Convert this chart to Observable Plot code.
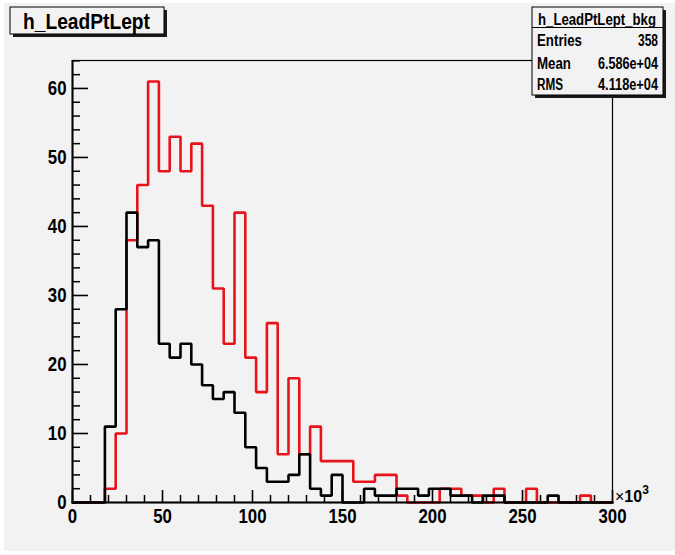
<!DOCTYPE html>
<html>
<head>
<meta charset="utf-8">
<script src="https://cdn.jsdelivr.net/npm/d3@7"></script>
<script src="https://cdn.jsdelivr.net/npm/@observablehq/plot@0.6"></script>
<style>
html, body { margin: 0; padding: 0; background: #ffffff; }
#chart { position: relative; width: 675px; height: 555px; }
</style>
</head>
<body>
<div id="chart"></div>
<script>
// ---- data ----
const binWidth = 6;          // in units of 10^3
const xMin = 0, xMax = 300;
const yMax = 64.05;
const redCounts = [0,0,0,2,10,38,46,61,48,53,48,52,43,31,23,42,21,16,26,7,18,7,11,6,6,6,3,3,4,4,1,0,0,0,2,2,1,1,0,2,0,0,2,0,0,0,0,1,0,0];
const blackCounts = [0,0,0,11,28,42,37,38,23,21,23,20,17,15,16,13,8,5,3,3,4,7,2,1,4,0,0,2,1,1,2,2,1,2,2,1,1,0,1,1,0,0,0,0,1,0,0,0,0,0];
const xMajorTicks = [0,50,100,150,200,250,300];
const xMinorTicks = [10,20,30,40,60,70,80,90,110,120,130,140,160,170,180,190,210,220,230,240,260,270,280,290];
const yMajorTicks = [0,10,20,30,40,50,60];
const yMinorTicks = [2,4,6,8,12,14,16,18,22,24,26,28,32,34,36,38,42,44,46,48,52,54,56,58,62,64];
const titleText = "h_LeadPtLept";
const statsTitle = "h_LeadPtLept_bkg";
const statsLabels = ["Entries", "Mean", "RMS"];
const statsValues = ["358", "6.586e+04", "4.118e+04"];
const axisMultiplier = "10";
const axisExponent = "3";

function stepPoints(counts) {
  const pts = counts.map((c, i) => ({x: xMin + i * binWidth, y: c}));
  pts.push({x: xMin + counts.length * binWidth, y: counts[counts.length - 1]});
  return pts;
}
const redPts = stepPoints(redCounts);
const blackPts = stepPoints(blackCounts);

const FONT = "'Liberation Sans', Arial, Helvetica, sans-serif";
const W = 675, H = 555, mL = 72, mR = 63, mT = 60, mB = 53;
const xPerPx = (xMax - xMin) / (W - mL - mR);
const yPerPx = yMax / (H - mT - mB);
const TICK = "#000";

const plot = Plot.plot({
  width: W,
  height: H,
  marginLeft: mL,
  marginRight: mR,
  marginTop: mT,
  marginBottom: mB,
  style: {background: "transparent", fontFamily: FONT, color: "#000"},
  x: {domain: [xMin, xMax]},
  y: {domain: [0, yMax]},
  marks: [
    Plot.frame({stroke: "#000", strokeWidth: 1.2}),
    Plot.line(redPts, {x: "x", y: "y", curve: "step-after", stroke: "#e8141c", strokeWidth: 2.6, strokeLinejoin: "miter"}),
    Plot.line(blackPts, {x: "x", y: "y", curve: "step-after", stroke: "#000", strokeWidth: 2.6, strokeLinejoin: "miter"}),
    Plot.ruleY(yMajorTicks, {y: d => d, x1: xMin, x2: xMin + 16 * xPerPx, stroke: TICK, strokeWidth: 1.6}),
    Plot.ruleY(yMinorTicks, {y: d => d, x1: xMin, x2: xMin + 8 * xPerPx, stroke: TICK, strokeWidth: 1.5}),
    Plot.ruleX(xMajorTicks, {x: d => d, y1: 0, y2: 12 * yPerPx, stroke: TICK, strokeWidth: 1.6}),
    Plot.ruleX(xMinorTicks, {x: d => d, y1: 0, y2: 7 * yPerPx, stroke: TICK, strokeWidth: 1.5}),
    Plot.ruleX([xMin], {stroke: "#000", strokeWidth: 2}),
    Plot.ruleY([0], {stroke: "#000", strokeWidth: 2}),
    Plot.axisY({ticks: yMajorTicks, tickSize: 0, tickPadding: 6, fontSize: 21, fontWeight: "bold", label: null}),
    Plot.axisX({ticks: xMajorTicks, tickSize: 0, tickPadding: 6, fontSize: 21, fontWeight: "bold", label: null})
  ]
});

document.getElementById("chart").appendChild(plot);

const svg = d3.select(plot);
svg.insert("rect", ":first-child")
  .attr("x", 4).attr("y", 3).attr("width", 671).attr("height", 548)
  .attr("fill", "#f2f2f2");

function squeeze(node, length) {
  node.setAttribute("textLength", length);
  node.setAttribute("lengthAdjust", "spacingAndGlyphs");
}

plot.querySelectorAll('g[aria-label="y-axis tick label"] text, g[aria-label="x-axis tick label"] text')
  .forEach(t => squeeze(t, t.getComputedTextLength() * 0.8));

const over = svg.append("g")
  .attr("font-family", FONT).attr("font-weight", "bold").attr("fill", "#000")
  .attr("text-anchor", "start");

function box(x, y, w, h) {
  over.append("rect").attr("x", x + 3).attr("y", y + 3).attr("width", w).attr("height", h).attr("fill", "#1a1a1a");
  over.append("rect").attr("x", x).attr("y", y).attr("width", w).attr("height", h)
    .attr("fill", "#f2f2f2").attr("stroke", "#000").attr("stroke-width", 1);
}

box(10, 7, 154, 27);
const tt = over.append("text").attr("x", 23).attr("y", 29).attr("font-size", 22).text(titleText);
squeeze(tt.node(), 127);

box(532, 7, 131, 88);
over.append("line").attr("x1", 532).attr("x2", 663).attr("y1", 27.5).attr("y2", 27.5).attr("stroke", "#000");
const st = over.append("text").attr("x", 538).attr("y", 25).attr("font-size", 16).text(statsTitle);
squeeze(st.node(), 118);
const rowY = [46, 69, 90];
const labelW = [45, 34, 26];
const valueW = [20, 60, 60];
statsLabels.forEach((lab, i) => {
  const a = over.append("text").attr("x", 537).attr("y", rowY[i]).attr("font-size", 16).text(lab);
  squeeze(a.node(), labelW[i]);
  const b = over.append("text").attr("x", 658).attr("y", rowY[i]).attr("font-size", 16)
    .attr("text-anchor", "end").text(statsValues[i]);
  squeeze(b.node(), valueW[i]);
});

const mt = over.append("text").attr("x", 615).attr("y", 502).attr("font-size", 16);
mt.append("tspan").attr("font-weight", "normal").text("×");
mt.append("tspan").text(axisMultiplier);
mt.append("tspan").attr("font-size", 12).attr("dy", -8).text(axisExponent);
</script>
</body>
</html>
